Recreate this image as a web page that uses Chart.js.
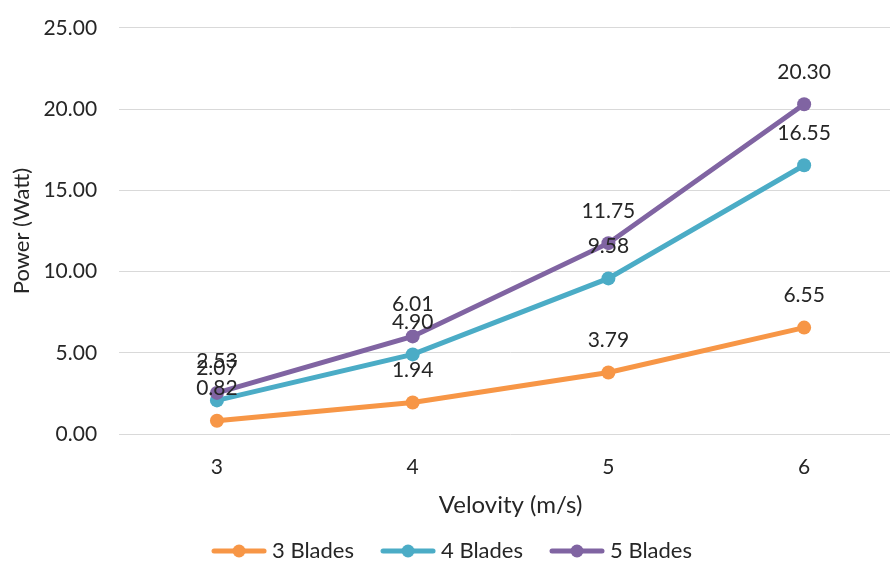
<!DOCTYPE html>
<html>
<head>
<meta charset="utf-8">
<script src="https://cdn.jsdelivr.net/npm/chart.js@4.4.1/dist/chart.umd.min.js"></script>
<style>
html,body{margin:0;padding:0;background:#fff;overflow:hidden;}
#wrap{width:890px;height:563px;overflow:hidden;position:relative;}
canvas{display:block;}
</style>
</head>
<body>
<div id="wrap"><canvas id="c" width="909" height="563"></canvas></div>
<script>
const categories = ['3', '4', '5', '6'];
const blades3 = [0.82, 1.94, 3.79, 6.55];
const blades4 = [2.07, 4.90, 9.58, 16.55];
const blades5 = [2.53, 6.01, 11.75, 20.30];
const seriesNames = ['3 Blades', '4 Blades', '5 Blades'];
const seriesColors = ['#F79646', '#4BACC6', '#8064A2'];

const FONT = 'Lato, Calibri, Carlito, "Liberation Sans", sans-serif';
const TEXT = '#262626';

// legend icon: line with a dot
function legendIcon(color) {
  const c = document.createElement('canvas');
  c.width = 56; c.height = 14;
  const g = c.getContext('2d');
  g.strokeStyle = color; g.lineWidth = 5; g.lineCap = 'round';
  g.beginPath(); g.moveTo(3, 7); g.lineTo(53, 7); g.stroke();
  g.fillStyle = color;
  g.beginPath(); g.arc(28, 7, 6.5, 0, Math.PI * 2); g.fill();
  return c;
}

const labelPlugin = {
  id: 'valueLabels',
  afterDatasetsDraw(chart) {
    const ctx = chart.ctx;
    ctx.save();
    ctx.font = '21px ' + FONT;
    ctx.fillStyle = TEXT;
    ctx.textAlign = 'center';
    ctx.textBaseline = 'middle';
    chart.data.datasets.forEach((ds, di) => {
      const meta = chart.getDatasetMeta(di);
      meta.data.forEach((pt, i) => {
        ctx.fillText(ds.data[i].toFixed(2), pt.x, pt.y - 32);
      });
    });
    ctx.restore();
  }
};

const mk = (i, data) => ({
  label: seriesNames[i],
  data: data,
  borderColor: seriesColors[i],
  backgroundColor: seriesColors[i],
  borderWidth: 5,
  pointRadius: 7,
  pointHoverRadius: 7,
  pointBorderWidth: 0,
  tension: 0,
  order: 2 - i
});

new Chart(document.getElementById('c'), {
  type: 'line',
  data: {
    labels: categories,
    datasets: [mk(0, blades3), mk(1, blades4), mk(2, blades5)]
  },
  options: {
    responsive: false,
    animation: false,
    devicePixelRatio: 1,
    layout: { padding: { top: 9, left: 0, right: 0, bottom: -9 } },
    plugins: {
      tooltip: { enabled: false },
      legend: {
        position: 'bottom',
        labels: {
          usePointStyle: true,
          pointStyleWidth: 44,
          font: { size: 22, family: FONT },
          color: TEXT,
          padding: 32,
          sort: (a, b) => a.datasetIndex - b.datasetIndex,
          generateLabels(chart) {
            return chart.data.datasets.map((ds, i) => ({
              text: ds.label,
              pointStyle: legendIcon(seriesColors[i]),
              fillStyle: seriesColors[i],
              strokeStyle: seriesColors[i],
              lineWidth: 0,
              fontColor: TEXT,
              datasetIndex: i,
              hidden: false
            }));
          }
        }
      }
    },
    scales: {
      x: {
        offset: true,
        grid: { display: false, drawTicks: false },
        border: { display: false },
        ticks: { font: { size: 21, family: FONT }, color: TEXT, padding: 20.4 },
        title: { display: true, text: 'Velovity (m/s)', font: { size: 24, family: FONT }, color: TEXT, padding: { top: -9.4, bottom: -11.4 } }
      },
      y: {
        min: 0, max: 25,
        grid: { color: '#d9d9d9', lineWidth: 1, drawTicks: false },
        border: { display: false },
        ticks: { stepSize: 5, font: { size: 21, family: FONT, lineHeight: 0.57 }, color: TEXT, padding: 22, callback: v => Number(v).toFixed(2) },
        title: { display: true, text: 'Power (Watt)', font: { size: 22, family: FONT }, color: TEXT, padding: { top: 9, bottom: -14 } }
      }
    }
  },
  plugins: [labelPlugin]
});
</script>
</body>
</html>
